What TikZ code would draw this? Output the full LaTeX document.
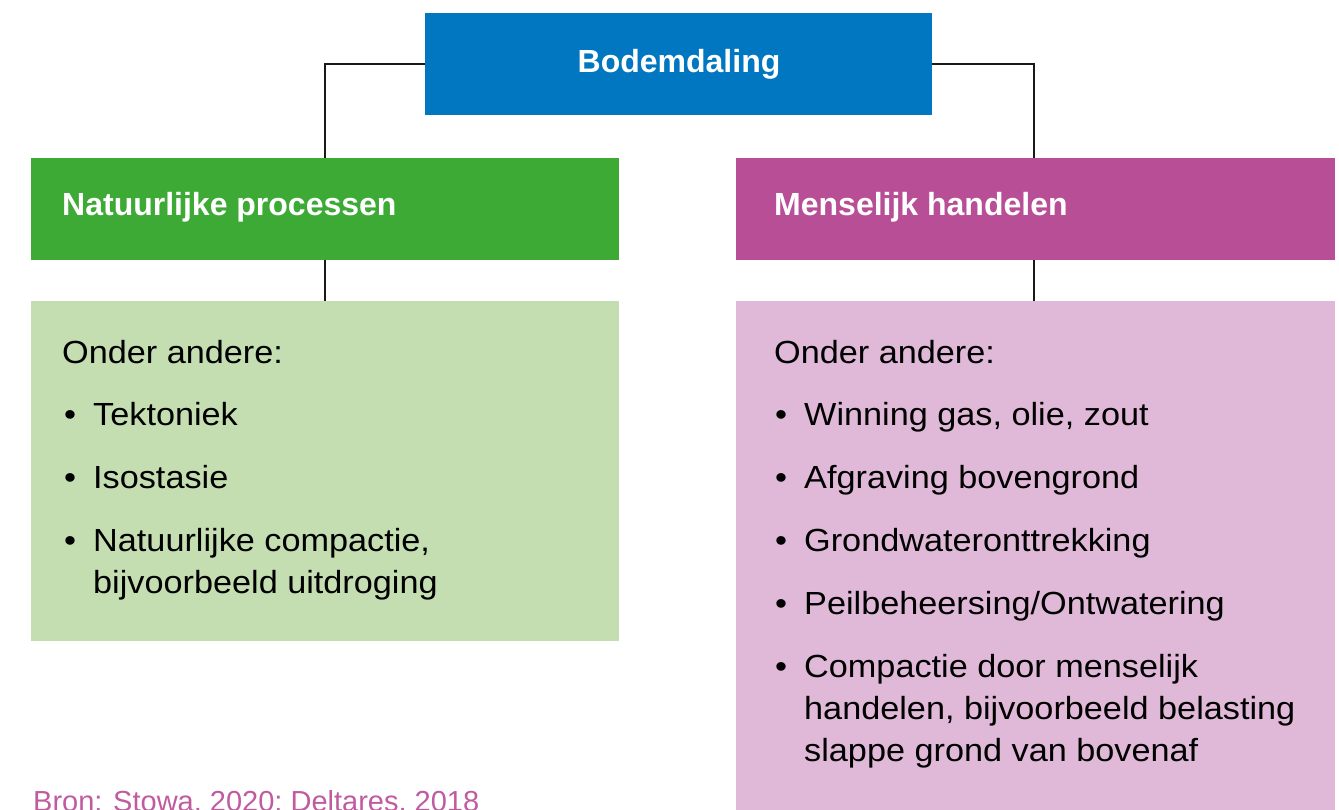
\documentclass[tikz,border=0pt]{standalone}
\usepackage{fontspec}
\setmainfont{Liberation Sans}
\newfontfamily\regfont[FakeStretch=1.07]{Liberation Sans}
\definecolor{cblue}{HTML}{0077C0}
\definecolor{cgreen}{HTML}{3DAA35}
\definecolor{clgreen}{HTML}{C4DEB2}
\definecolor{cpink}{HTML}{B84F96}
\definecolor{clpink}{HTML}{E0B9D9}
\definecolor{csrc}{HTML}{C05BA0}
\begin{document}
\begin{tikzpicture}[x=1pt,y=-1pt,
  box/.style={draw=none,inner sep=0pt,outer sep=0pt,anchor=north west},
  head/.style={anchor=base west,inner sep=0pt,text=white,font=\fontsize{32}{38}\selectfont\bfseries},
  txt/.style={anchor=base west,inner sep=0pt,text=black,font=\regfont\fontsize{32}{38}\selectfont},
  conn/.style={draw=black!90,line width=2pt}]
\useasboundingbox (0,0) rectangle (1339,809);
% boxes
\node[box,fill=cblue,minimum width=507pt,minimum height=102pt] (top) at (425,13) {};
\node[box,fill=cgreen,minimum width=588pt,minimum height=102pt] (green) at (31,158) {};
\node[box,fill=cpink,minimum width=599pt,minimum height=102pt] (pink) at (736,158) {};
\node[box,fill=clgreen,minimum width=588pt,minimum height=340pt] (lgreen) at (31,301) {};
\node[box,fill=clpink,minimum width=599pt,minimum height=520pt] (lpink) at (736,301) {};
% connectors
\draw[conn] (top.west) -| (green.north);
\draw[conn] (top.east) -| ([xshift=-2pt]pink.north);
\draw[conn] (green.south) -- (lgreen.north);
\draw[conn] ([xshift=-2pt]pink.south) -- ([xshift=-2pt]lpink.north);
% headings
\node[head,anchor=base] (ttop) at (679,72) {Bodemdaling};
\node[head] (tgreen) at (62,215) {Natuurlijke processen};
\node[head] (tpink) at (774,215) {Menselijk handelen};
% left list
\node[txt] (la) at (62,363) {Onder andere:};
\node[txt] (lb1) at (64,425) {•};
\node[txt] (l1) at (93,425) {Tektoniek};
\node[txt] (lb2) at (64,488) {•};
\node[txt] (l2) at (93,488) {Isostasie};
\node[txt] (lb3) at (64,551) {•};
\node[txt] (l3) at (93,551) {Natuurlijke compactie,};
\node[txt] (l3b) at (93,593) {bijvoorbeeld uitdroging};
% right list
\node[txt] (ra) at (774,363) {Onder andere:};
\node[txt] (rb1) at (775,425) {•};
\node[txt] (r1) at (804,425) {Winning gas, olie, zout};
\node[txt] (rb2) at (775,488) {•};
\node[txt] (r2) at (804,488) {Afgraving bovengrond};
\node[txt] (rb3) at (775,551) {•};
\node[txt] (r3) at (804,551) {Grondwateronttrekking};
\node[txt] (rb4) at (775,614) {•};
\node[txt] (r4) at (804,614) {Peilbeheersing/Ontwatering};
\node[txt] (rb5) at (775,677) {•};
\node[txt] (r5) at (804,677) {Compactie door menselijk};
\node[txt] (r5b) at (804,719) {handelen, bijvoorbeeld belasting};
\node[txt] (r5c) at (804,761) {slappe grond van bovenaf};
% source
\node[anchor=base west,inner sep=0pt,text=csrc,font=\fontsize{29}{34}\selectfont] (src) at (33,811) {Bron: Stowa, 2020; Deltares, 2018};
\end{tikzpicture}
\end{document}
